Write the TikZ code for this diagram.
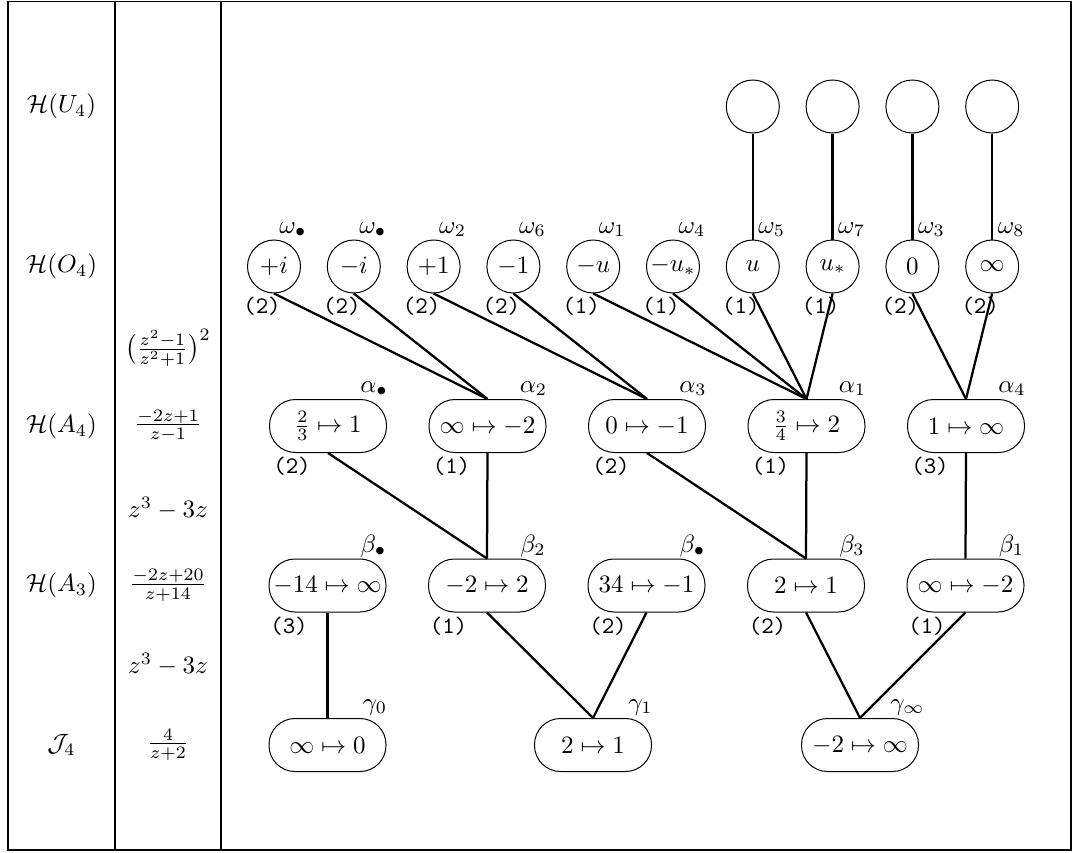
\documentclass[tikz,border=0pt]{standalone}
\usepackage{amsmath}
\begin{document}
\begin{tikzpicture}[x=0.4pt,y=-0.4pt,
  circ/.style={circle,draw,line width=0.4pt,minimum size=21.2pt,inner sep=0pt},
  mbox/.style={rectangle,draw,line width=0.4pt,rounded corners=10.4pt,minimum width=46.8pt,minimum height=21.2pt,inner sep=0pt},
  conn/.style={line width=0.9pt},
  frame/.style={line width=0.5pt},
  lab/.style={anchor=base,inner sep=0pt},
  mult/.style={font=\ttfamily\fontsize{9.5}{11}\selectfont,inner sep=0pt}]
\useasboundingbox (0,0) rectangle (1074,853);
% frame
\draw[frame] (8,1.5) rectangle (1071,850);
\draw[frame] (115,1.5) -- (115,850);
\draw[frame] (221,1.5) -- (221,850);
% column 1
\node (c1u) at (61.5,106.5) {$\mathcal{H}(U_4)$};
\node (c1o) at (61.5,266.5) {$\mathcal{H}(O_4)$};
\node (c1a) at (61.5,426) {$\mathcal{H}(A_4)$};
\node (c1b) at (61.5,585.5) {$\mathcal{H}(A_3)$};
\node (c1g) at (61.5,745) {$\mathcal{J}_4$};
% column 2
\node (c2a) at (168,348) {$\bigl(\frac{z^2-1}{z^2+1}\bigr)^2$};
\node (c2b) at (168,426) {$\frac{-2z+1}{z-1}$};
\node (c2c) at (168,508) {$z^3-3z$};
\node (c2d) at (168,585.5) {$\frac{-2z+20}{z+14}$};
\node (c2e) at (168,664) {$z^3-3z$};
\node (c2f) at (168,745) {$\frac{4}{z+2}$};
% U4 row
\node[circ] (u5) at (752.8,106.5) {};
\node[circ] (u7) at (832.6,106.5) {};
\node[circ] (u3) at (912.4,106.5) {};
\node[circ] (u8) at (992.2,106.5) {};
% O4 row
\node[circ] (o1) at (274,266.5) {$+i$};
\node[circ] (o2) at (353.8,266.5) {$-i$};
\node[circ] (o3) at (433.6,266.5) {$+1$};
\node[circ] (o4) at (513.4,266.5) {$-1$};
\node[circ] (o5) at (593.2,266.5) {$-u$};
\node[circ] (o6) at (673,266.5) {$-u_*$};
\node[circ] (o7) at (752.8,266.5) {$u$};
\node[circ] (o8) at (832.6,266.5) {$u_*$};
\node[circ] (o9) at (912.4,266.5) {$0$};
\node[circ] (o10) at (992.2,266.5) {$\infty$};
% omega labels
\node[lab] (lo1) at (293,233) {$\omega_\bullet$};
\node[lab] (lo2) at (372.8,233) {$\omega_\bullet$};
\node[lab] (lo3) at (452.6,233) {$\omega_2$};
\node[lab] (lo4) at (532.4,233) {$\omega_6$};
\node[lab] (lo5) at (612.2,233) {$\omega_1$};
\node[lab] (lo6) at (692,233) {$\omega_4$};
\node[lab] (lo7) at (771.8,233) {$\omega_5$};
\node[lab] (lo8) at (851.6,233) {$\omega_7$};
\node[lab] (lo9) at (931.4,233) {$\omega_3$};
\node[lab] (lo10) at (1011.2,233) {$\omega_8$};
% O multiplicities
\node[mult] (mo1) at (262,306) {(2)};
\node[mult] (mo2) at (341.8,306) {(2)};
\node[mult] (mo3) at (421.6,306) {(2)};
\node[mult] (mo4) at (501.4,306) {(2)};
\node[mult] (mo5) at (581.2,306) {(1)};
\node[mult] (mo6) at (661,306) {(1)};
\node[mult] (mo7) at (740.8,306) {(1)};
\node[mult] (mo8) at (820.6,306) {(1)};
\node[mult] (mo9) at (900.4,306) {(2)};
\node[mult] (mo10) at (980.2,306) {(2)};
% A4 row
\node[mbox] (a0) at (328,426) {$\tfrac{2}{3}\mapsto 1$};
\node[mbox] (a2) at (487.5,426) {$\infty\mapsto -2$};
\node[mbox] (a3) at (647,426) {$0\mapsto -1$};
\node[mbox] (a1) at (806.5,426) {$\tfrac{3}{4}\mapsto 2$};
\node[mbox] (a4) at (966,426) {$1\mapsto \infty$};
\node[lab] (la0) at (374,392) {$\alpha_\bullet$};
\node[lab] (la2) at (533.5,392) {$\alpha_2$};
\node[lab] (la3) at (693,392) {$\alpha_3$};
\node[lab] (la1) at (852.5,392) {$\alpha_1$};
\node[lab] (la4) at (1012,392) {$\alpha_4$};
\node[mult] (ma0) at (292,466) {(2)};
\node[mult] (ma2) at (451.5,466) {(1)};
\node[mult] (ma3) at (611,466) {(2)};
\node[mult] (ma1) at (770.5,466) {(1)};
\node[mult] (ma4) at (930,466) {(3)};
% A3 row
\node[mbox] (b0) at (327.5,585.5) {$-14\mapsto \infty$};
\node[mbox] (b2) at (487,585.5) {$-2\mapsto 2$};
\node[mbox] (bb) at (646.5,585.5) {$34\mapsto -1$};
\node[mbox] (b3) at (806,585.5) {$2\mapsto 1$};
\node[mbox] (b1) at (965.5,585.5) {$\infty\mapsto -2$};
\node[lab] (lb0) at (373.5,552) {$\beta_\bullet$};
\node[lab] (lb2) at (533,552) {$\beta_2$};
\node[lab] (lbb) at (692.5,552) {$\beta_\bullet$};
\node[lab] (lb3) at (852,552) {$\beta_3$};
\node[lab] (lb1) at (1011.5,552) {$\beta_1$};
\node[mult] (mb0) at (289,626) {(3)};
\node[mult] (mb2) at (448.5,626) {(1)};
\node[mult] (mbb) at (608,626) {(2)};
\node[mult] (mb3) at (767.5,626) {(2)};
\node[mult] (mb1) at (927,626) {(1)};
% J4 row
\node[mbox] (g0) at (327.5,745) {$\infty\mapsto 0$};
\node[mbox] (g1) at (593,745) {$2\mapsto 1$};
\node[mbox] (gi) at (860,745) {$-2\mapsto \infty$};
\node[lab] (lg0) at (375,710) {$\gamma_0$};
\node[lab] (lg1) at (640.5,710) {$\gamma_1$};
\node[lab] (lgi) at (907.5,710) {$\gamma_\infty$};
% connectors U -> O
\draw[conn] (u5.south) -- (o7.north);
\draw[conn] (u7.south) -- (o8.north);
\draw[conn] (u3.south) -- (o9.north);
\draw[conn] (u8.south) -- (o10.north);
% O -> A
\draw[conn] (o1.south) -- (a2.north);
\draw[conn] (o2.south) -- (a2.north);
\draw[conn] (o3.south) -- (a3.north);
\draw[conn] (o4.south) -- (a3.north);
\draw[conn] (o5.south) -- (a1.north);
\draw[conn] (o6.south) -- (a1.north);
\draw[conn] (o7.south) -- (a1.north);
\draw[conn] (o8.south) -- (a1.north);
\draw[conn] (o9.south) -- (a4.north);
\draw[conn] (o10.south) -- (a4.north);
% A -> B
\draw[conn] (a0.south) -- (b2.north);
\draw[conn] (a2.south) -- (b2.north);
\draw[conn] (a3.south) -- (b3.north);
\draw[conn] (a1.south) -- (b3.north);
\draw[conn] (a4.south) -- (b1.north);
% B -> G
\draw[conn] (b0.south) -- (g0.north);
\draw[conn] (b2.south) -- (g1.north);
\draw[conn] (bb.south) -- (g1.north);
\draw[conn] (b3.south) -- (gi.north);
\draw[conn] (b1.south) -- (gi.north);
\end{tikzpicture}
\end{document}
